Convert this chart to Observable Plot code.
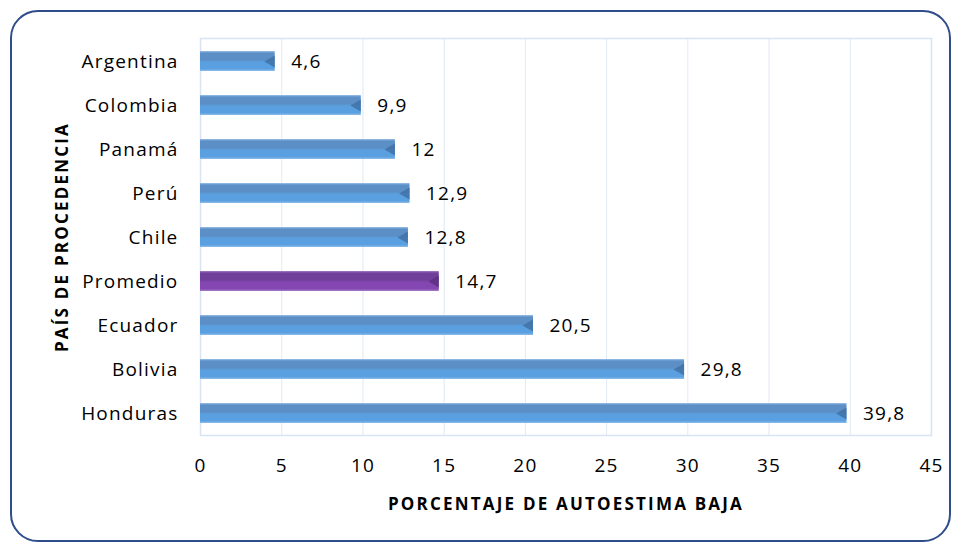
<!DOCTYPE html>
<html>
<head>
<meta charset="utf-8">
<script src="https://cdn.jsdelivr.net/npm/d3@7"></script>
<script src="https://cdn.jsdelivr.net/npm/@observablehq/plot@0.6"></script>
<style>
  html, body { margin: 0; padding: 0; background: #fff; }
  #wrap { position: relative; width: 961px; height: 546px; overflow: hidden; }
  #frame { position: absolute; left: 10px; top: 10px; width: 941px; height: 532px;
    border: 2px solid #2f4d8a; border-radius: 28px; box-sizing: border-box; }
  #chart { position: absolute; left: 0; top: 0; }
  .ls text { letter-spacing: 1.2px; }
  .ttl text { letter-spacing: 2.2px; }
</style>
</head>
<body>
<div id="wrap"><div id="frame"></div><div id="chart"></div></div>
<script>
const countries = ["Argentina", "Colombia", "Panamá", "Perú", "Chile", "Promedio", "Ecuador", "Bolivia", "Honduras"];
const values = [4.6, 9.9, 12, 12.9, 12.8, 14.7, 20.5, 29.8, 39.8];
const labels = ["4,6", "9,9", "12", "12,9", "12,8", "14,7", "20,5", "29,8", "39,8"];
const xTicks = [0, 5, 10, 15, 20, 25, 30, 35, 40, 45];

const data = countries.map((c, i) => ({country: c, value: values[i], label: labels[i], avg: c === "Promedio"}));

const font = "Open Sans, Lato, sans-serif";

const defs = () => {
  const ns = "http://www.w3.org/2000/svg";
  const d = document.createElementNS(ns, "defs");
  d.innerHTML = `
    <linearGradient id="gBlue" x1="0" y1="0" x2="0" y2="1">
      <stop offset="0" stop-color="#9cc3ea"/>
      <stop offset="0.1" stop-color="#5b8fc6"/>
      <stop offset="0.45" stop-color="#5b8fc6"/>
      <stop offset="0.55" stop-color="#5a9fe0"/>
      <stop offset="0.88" stop-color="#5a9fe0"/>
      <stop offset="1" stop-color="#8cbde9"/>
    </linearGradient>
    <linearGradient id="gPurple" x1="0" y1="0" x2="0" y2="1">
      <stop offset="0" stop-color="#a77fc6"/>
      <stop offset="0.1" stop-color="#6f3f9a"/>
      <stop offset="0.45" stop-color="#6f3f9a"/>
      <stop offset="0.55" stop-color="#8446b1"/>
      <stop offset="0.88" stop-color="#8446b1"/>
      <stop offset="1" stop-color="#a57cc9"/>
    </linearGradient>`;
  return d;
};

const chart = Plot.plot({
  width: 961,
  height: 546,
  marginLeft: 200,
  marginRight: 30,
  marginTop: 38,
  marginBottom: 111,
  style: {fontFamily: font, fontSize: "19px", color: "#000", background: "transparent"},
  x: {domain: [0, 45], ticks: xTicks, label: null},
  y: {domain: countries, paddingInner: 0.55, paddingOuter: 0.275, label: null},
  marks: [
    defs,
    Plot.ruleX(xTicks, {stroke: "#dfe9f5", strokeWidth: 1}),
    Plot.frame({stroke: "#d6e4f4", strokeWidth: 1.5}),
    Plot.barX(data, {y: "country", x: "value", fill: d => d.avg ? "url(#gPurple)" : "url(#gBlue)"}),
    Plot.dot(data, {y: "country", x: "value", symbol: "triangle", rotate: -90, r: 4.5, dx: -4,
      fill: d => d.avg ? "#5a2f80" : "#3f6fa3", fillOpacity: 0.8}),
    Plot.text(data, {y: "country", x: "value", text: "label", textAnchor: "start", dx: 16,
      fontSize: 19, fill: "#000", className: "ls"}),
    Plot.axisX({ticks: xTicks, tickSize: 0, tickPadding: 23, fontSize: 19, label: null, tickFormat: d => String(d), className: "ls"}),
    Plot.axisY({tickSize: 0, tickPadding: 22, fontSize: 19, label: null, className: "ls"}),
    Plot.text(["PORCENTAJE DE AUTOESTIMA BAJA"], {frameAnchor: "bottom", textAnchor: "middle", dy: 74, fontSize: 17, fontWeight: "bold", fill: "#000", className: "ttl"}),
    Plot.text(["PAÍS DE PROCEDENCIA"], {frameAnchor: "left", textAnchor: "middle", dx: -138, rotate: -90, fontSize: 17, fontWeight: "bold", fill: "#000", className: "ttl"})
  ]
});
document.getElementById("chart").appendChild(chart);
</script>
</body>
</html>
